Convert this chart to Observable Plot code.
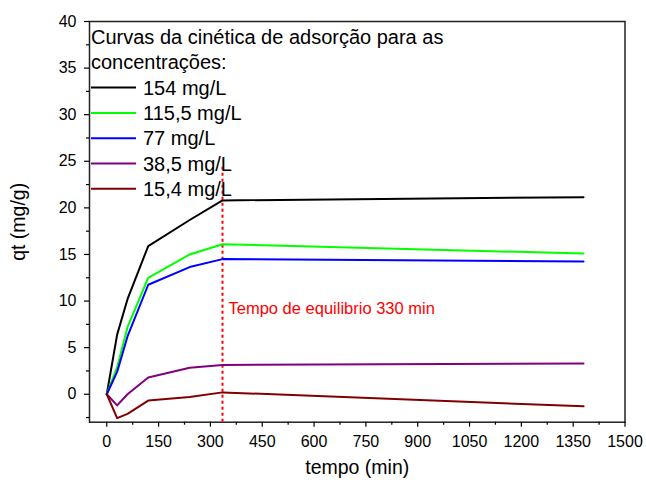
<!DOCTYPE html>
<html>
<head>
<meta charset="utf-8">
<script src="https://cdn.jsdelivr.net/npm/d3@7"></script>
<script src="https://cdn.jsdelivr.net/npm/@observablehq/plot@0.6"></script>
<style>
  html, body { margin: 0; padding: 0; background: #fff; }
  #wrap { position: relative; width: 646px; height: 486px; font-family: "Liberation Sans", Arial, sans-serif; }
  #legend { position: absolute; left: 0; top: 0; pointer-events: none; }
</style>
</head>
<body>
<div id="wrap"></div>
<script>
// ---- data ----
const times = [0, 30, 60, 120, 240, 335, 1380];
const series154 = [0, 6.4, 10.2, 15.9, 18.7, 20.8, 21.15];
const series1155 = [0, 2.9, 7.2, 12.5, 15.0, 16.1, 15.1];
const series77 = [0, 2.4, 6.2, 11.75, 13.65, 14.5, 14.25];
const series385 = [0, -1.2, 0.0, 1.8, 2.85, 3.15, 3.3];
const series154b = [0, -2.57, -2.1, -0.68, -0.3, 0.2, -1.3];

const seriesNames = ["154 mg/L", "115,5 mg/L", "77 mg/L", "38,5 mg/L", "15,4 mg/L"];
const seriesColors = ["#000000", "#00ff00", "#0000ff", "#800080", "#800000"];
const seriesValues = [series154, series1155, series77, series385, series154b];

const xTicks = [0, 150, 300, 450, 600, 750, 900, 1050, 1200, 1350, 1500];
const xMinorTicks = [75, 225, 375, 525, 675, 825, 975, 1125, 1275, 1425];
const yTicks = [0, 5, 10, 15, 20, 25, 30, 35, 40];
const yMinorTicks = [-2.5, 2.5, 7.5, 12.5, 17.5, 22.5, 27.5, 32.5, 37.5];

const equilibriumTime = 335;
const equilibriumTop = 24.5;
const equilibriumLabel = "Tempo de equilibrio 330 min";
const equilibriumLabelY = 9.2;

const legendTitle = ["Curvas da cinética de adsorção para as", "concentrações:"];

// tidy table built from the arrays
const rows = [];
seriesValues.forEach((vals, s) => {
  vals.forEach((v, i) => rows.push({series: seriesNames[s], t: times[i], q: v}));
});

const font = "Liberation Sans, Arial, sans-serif";

const chart = Plot.plot({
  width: 646,
  height: 486,
  marginLeft: 89,
  marginRight: 21.5,
  marginTop: 21,
  marginBottom: 64.3,
  style: {fontFamily: font, fontSize: "16px", color: "#000", background: "#fff"},
  x: {domain: [-50, 1500]},
  y: {domain: [-3, 40]},
  color: {domain: seriesNames, range: seriesColors},
  marks: [
    Plot.frame({stroke: "#222", strokeWidth: 1.5}),
    Plot.axisX({ticks: xMinorTicks, tickSize: 3, tickFormat: () => "", label: null, strokeWidth: 1.2}),
    Plot.axisY({ticks: yMinorTicks, tickSize: 3, tickFormat: () => "", label: null, strokeWidth: 1.2}),
    Plot.axisX({ticks: xTicks, tickSize: 5, tickPadding: 8, strokeWidth: 1.2, fontSize: 16,
      tickFormat: d => String(d),
      label: "tempo (min)", labelAnchor: "center", labelArrow: "none", labelOffset: 52}),
    Plot.axisY({ticks: yTicks, tickSize: 5, tickPadding: 8, strokeWidth: 1.2, fontSize: 16,
      tickFormat: d => String(d),
      label: "qt (mg/g)", labelAnchor: "center", labelArrow: "none", labelOffset: 78}),
    Plot.ruleX([equilibriumTime], {y1: -3, y2: equilibriumTop, stroke: "#ff0000", strokeWidth: 2, strokeDasharray: "3,3"}),
    Plot.line(rows, {x: "t", y: "q", z: "series", stroke: "series", strokeWidth: 2}),
    Plot.text([equilibriumLabel], {x: equilibriumTime, y: equilibriumLabelY, text: d => d, dx: 6, textAnchor: "start", fill: "#ff0000", fontSize: 16.5})
  ]
});

// enlarge axis title fonts
d3.select(chart).selectAll("g[aria-label='x-axis label'] text, g[aria-label='y-axis label'] text").attr("font-size", 19.5);

const wrap = document.getElementById("wrap");
wrap.appendChild(chart);

// legend overlay
const lg = d3.select(wrap).append("svg").attr("id", "legend").attr("width", 646).attr("height", 486)
  .style("font-family", font);
const lx = 91, textX = 143, titleY0 = 37, rowH = 25.3;
legendTitle.forEach((t, i) => {
  lg.append("text").attr("x", lx).attr("y", titleY0 + i * rowH).attr("dy", "0.35em")
    .attr("font-size", 20).text(t);
});
seriesNames.forEach((n, i) => {
  const y = titleY0 + (i + 2) * rowH;
  lg.append("line").attr("x1", lx).attr("x2", lx + 45).attr("y1", y).attr("y2", y)
    .attr("stroke", seriesColors[i]).attr("stroke-width", 2);
  lg.append("text").attr("x", textX).attr("y", y).attr("dy", "0.35em").attr("font-size", 20).text(n);
});
</script>
</body>
</html>
